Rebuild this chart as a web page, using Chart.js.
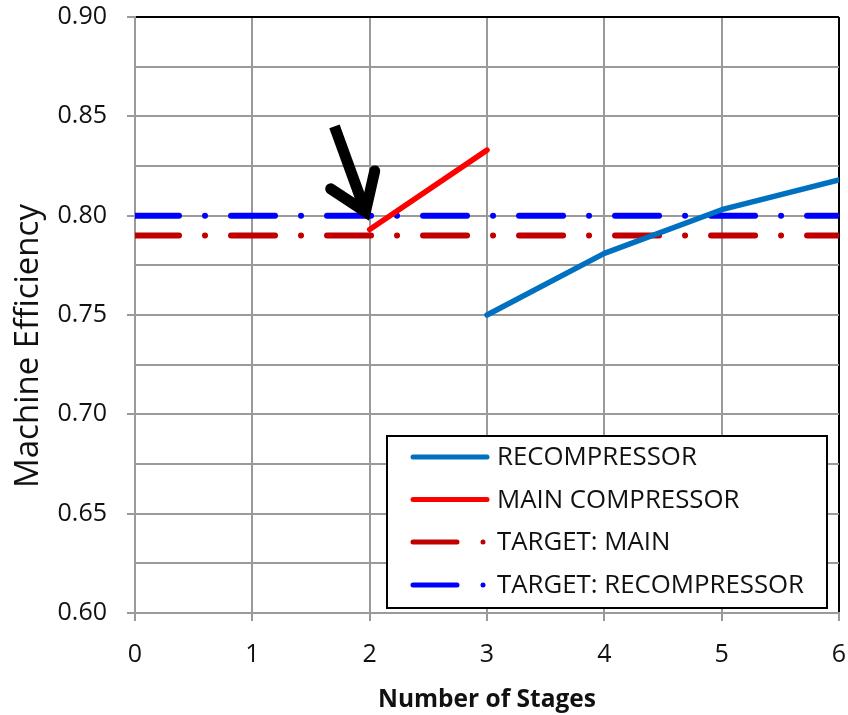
<!DOCTYPE html>
<html>
<head>
<meta charset="utf-8">
<script src="https://cdn.jsdelivr.net/npm/chart.js@4.4.1/dist/chart.umd.min.js"></script>
<style>
  html, body { margin: 0; padding: 0; background: #ffffff; }
  #wrap { width: 848px; height: 715px; }
</style>
</head>
<body>
<div id="wrap"><canvas id="chart" width="848" height="715"></canvas></div>
<script>
// Machine efficiency versus number of compressor stages
const recompStages = [3, 4, 5, 6];
const recompEfficiency = [0.750, 0.781, 0.803, 0.818];

const mainStages = [2, 3];
const mainEfficiency = [0.793, 0.833];

const targetStages = [0, 6];
const targetMain = [0.79, 0.79];
const targetRecomp = [0.80, 0.80];

const seriesNames = ['RECOMPRESSOR', 'MAIN COMPRESSOR', 'TARGET: MAIN', 'TARGET: RECOMPRESSOR'];
const yAxisTitle = 'Machine Efficiency';
const xAxisTitle = 'Number of Stages';

// Call-out arrow (data coordinates): shaft tail, tip, and the two head barbs
const arrowTail = [1.70, 0.845];
const arrowTip = [1.964, 0.802];
const arrowBarbs = [[1.668, 0.8135], [2.043, 0.8225]];

const pairs = (xs, ys) => xs.map((x, i) => ({ x: x, y: ys[i] }));

const FONT = '"Open Sans", "DejaVu Sans", sans-serif';
const GRID = '#9a9a9a';
const dashDot = [44, 26, 0.01, 26];

const isMajor = v => Math.abs(Math.round(v * 1000) % 50) < 1e-6;

const overlay = {
  id: 'overlay',
  afterDraw(chart) {
    const ctx = chart.ctx;
    const xs = chart.scales.x, ys = chart.scales.y;

    // vertical axis title
    ctx.save();
    ctx.translate(29, 346);
    ctx.rotate(-Math.PI / 2);
    ctx.font = '33px ' + FONT;
    ctx.fillStyle = '#111';
    ctx.textAlign = 'center';
    ctx.textBaseline = 'middle';
    ctx.fillText(yAxisTitle, 0, 0);
    ctx.restore();

    // arrow
    const P = p => [xs.getPixelForValue(p[0]), ys.getPixelForValue(p[1])];
    const t = P(arrowTail), tip = P(arrowTip), b1 = P(arrowBarbs[0]), b2 = P(arrowBarbs[1]);
    ctx.save();
    ctx.strokeStyle = '#000';
    ctx.lineWidth = 11;
    ctx.lineCap = 'butt';
    ctx.beginPath();
    ctx.moveTo(t[0], t[1]);
    ctx.lineTo(tip[0], tip[1]);
    ctx.stroke();
    ctx.lineCap = 'round';
    ctx.lineJoin = 'miter';
    ctx.miterLimit = 10;
    ctx.beginPath();
    ctx.moveTo(b1[0], b1[1]);
    ctx.lineTo(tip[0], tip[1]);
    ctx.lineTo(b2[0], b2[1]);
    ctx.stroke();
    ctx.restore();

    // legend box
    const box = { left: 387, top: 436, right: 827, bottom: 608 };
    ctx.save();
    ctx.fillStyle = '#fff';
    ctx.fillRect(box.left, box.top, box.right - box.left, box.bottom - box.top);
    ctx.strokeStyle = '#000';
    ctx.lineWidth = 2;
    ctx.strokeRect(box.left, box.top, box.right - box.left, box.bottom - box.top);
    const rowY = [457, 499.5, 542, 585];
    chart.data.datasets.forEach((ds, i) => {
      const y = rowY[i];
      ctx.strokeStyle = ds.borderColor;
      ctx.lineWidth = 5;
      ctx.lineCap = 'round';
      ctx.setLineDash(ds.borderDash || []);
      ctx.beginPath();
      ctx.moveTo(413, y);
      ctx.lineTo(487, y);
      ctx.stroke();
      ctx.setLineDash([]);
      ctx.fillStyle = '#111';
      ctx.font = '25.8px ' + FONT;
      ctx.textAlign = 'left';
      ctx.textBaseline = 'middle';
      ctx.fillText(ds.label, 497, y + 1);
    });
    ctx.restore();
  }
};

new Chart(document.getElementById('chart'), {
  type: 'scatter',
  data: {
    datasets: [
      { label: seriesNames[0], data: pairs(recompStages, recompEfficiency), showLine: true,
        borderColor: '#0070C0', borderWidth: 5.5, borderCapStyle: 'round', borderJoinStyle: 'round' },
      { label: seriesNames[1], data: pairs(mainStages, mainEfficiency), showLine: true,
        borderColor: '#FF0000', borderWidth: 5.5, borderCapStyle: 'round', borderJoinStyle: 'round' },
      { label: seriesNames[2], data: pairs(targetStages, targetMain), showLine: true,
        borderColor: '#C00000', borderWidth: 6, borderCapStyle: 'round', borderDash: dashDot },
      { label: seriesNames[3], data: pairs(targetStages, targetRecomp), showLine: true,
        borderColor: '#0000FF', borderWidth: 6, borderCapStyle: 'round', borderDash: dashDot }
    ]
  },
  options: {
    responsive: false,
    animation: false,
    devicePixelRatio: 1,
    elements: { point: { radius: 0, hoverRadius: 0 } },
    layout: { padding: 0 },
    plugins: { legend: { display: false }, tooltip: { enabled: false } },
    scales: {
      x: {
        type: 'linear', min: 0, max: 6,
        afterFit: s => { s.height = 102; s.paddingLeft = 0; s.paddingRight = 9; },
        ticks: { stepSize: 1, color: '#111', font: { family: FONT, size: 25 }, padding: 19 },
        grid: {
          color: c => (c.tick && c.tick.value === 6 ? '#000' : GRID),
          lineWidth: 2, tickLength: 8, tickColor: GRID, tickWidth: 2
        },
        border: { color: GRID, width: 2 },
        title: { display: true, text: xAxisTitle, color: '#111',
                 font: { family: FONT, size: 24.5, weight: 'bold' }, padding: { top: 0, bottom: 0 } }
      },
      y: {
        type: 'linear', min: 0.6, max: 0.9,
        afterFit: s => { s.width = 135; s.paddingTop = 17; s.paddingBottom = 0; },
        ticks: {
          stepSize: 0.025, color: '#111', font: { family: FONT, size: 25 }, padding: 20,
          callback: v => (isMajor(v) ? v.toFixed(2) : '')
        },
        grid: {
          color: c => (c.tick && Math.abs(c.tick.value - 0.9) < 1e-6 ? '#000' : GRID),
          lineWidth: 2, tickLength: 8, tickWidth: 2,
          tickColor: c => (c.tick && isMajor(c.tick.value) ? GRID : 'rgba(0,0,0,0)')
        },
        border: { color: GRID, width: 2 }
      }
    }
  },
  plugins: [overlay]
});
</script>
</body>
</html>
